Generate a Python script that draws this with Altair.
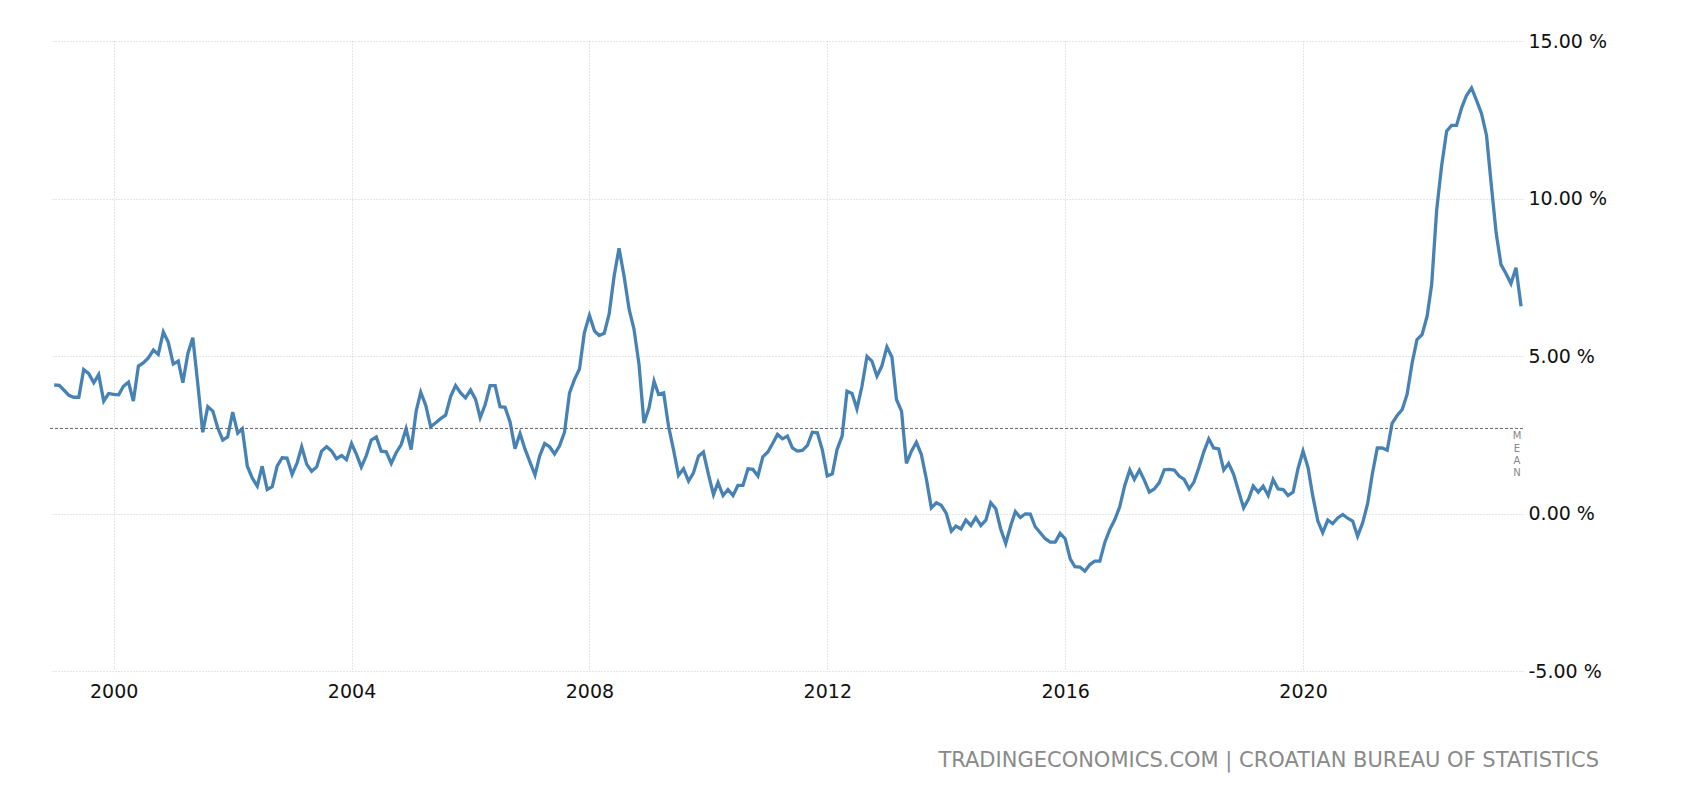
import altair as alt
import pandas as pd

# Monthly inflation rate (%), Jan 1999 .. Sep 2023
v1999_2002 = [
    4.08, 4.07, 3.92, 3.75, 3.69, 3.69, 4.57, 4.44, 4.15, 4.41, 3.57, 3.81,
    3.78, 3.77, 4.04, 4.17, 3.57, 4.68, 4.78, 4.94, 5.19, 5.05, 5.76, 5.44,
    4.75, 4.84, 4.15, 5.08, 5.58, 4.10, 2.58, 3.39, 3.25, 2.72, 2.33, 2.43,
    3.22, 2.55, 2.69, 1.50, 1.13, 0.87, 1.50, 0.76, 0.85, 1.50, 1.77, 1.76,
]
v2003_2006 = [
    1.24, 1.61, 2.12, 1.56, 1.34, 1.48, 1.98, 2.12, 1.98, 1.74, 1.84, 1.71,
    2.22, 1.87, 1.47, 1.84, 2.33, 2.43, 1.98, 1.96, 1.59, 1.93, 2.19, 2.69,
    2.03, 3.25, 3.85, 3.43, 2.75, 2.88, 3.01, 3.12, 3.72, 4.06, 3.83, 3.67,
    3.92, 3.62, 3.04, 3.46, 4.06, 4.06, 3.39, 3.37, 2.90, 2.06, 2.54, 2.05,
]
v2007_2010 = [
    1.63, 1.22, 1.82, 2.22, 2.12, 1.89, 2.14, 2.58, 3.83, 4.25, 4.59, 5.74,
    6.29, 5.80, 5.65, 5.72, 6.33, 7.55, 8.42, 7.53, 6.48, 5.85, 4.72, 2.87,
    3.35, 4.20, 3.78, 3.83, 2.77, 2.01, 1.21, 1.42, 1.03, 1.29, 1.82, 1.95,
    1.24, 0.60, 0.99, 0.57, 0.76, 0.57, 0.89, 0.89, 1.42, 1.40, 1.19, 1.80,
]
v2011_2014 = [
    1.95, 2.24, 2.51, 2.37, 2.46, 2.08, 1.98, 2.00, 2.16, 2.58, 2.56, 2.03,
    1.19, 1.26, 2.03, 2.46, 3.88, 3.81, 3.32, 4.04, 4.99, 4.84, 4.36, 4.68,
    5.29, 4.97, 3.62, 3.25, 1.59, 1.98, 2.26, 1.87, 1.08, 0.18, 0.34, 0.26,
    0.00, -0.56, -0.40, -0.49, -0.21, -0.38, -0.13, -0.38, -0.21, 0.34, 0.15, -0.49,
]
v2015_2018 = [
    -0.95, -0.38, 0.06, -0.13, -0.01, -0.02, -0.42, -0.61, -0.80, -0.91, -0.91, -0.63,
    -0.80, -1.44, -1.69, -1.70, -1.83, -1.62, -1.51, -1.51, -0.91, -0.51, -0.19, 0.21,
    0.89, 1.38, 1.08, 1.38, 1.06, 0.68, 0.78, 0.98, 1.39, 1.40, 1.38, 1.19,
    1.08, 0.78, 0.99, 1.45, 1.95, 2.37, 2.08, 2.05, 1.38, 1.59, 1.24, 0.71,
]
v2019_2023 = [
    0.18, 0.47, 0.87, 0.68, 0.87, 0.57, 1.08, 0.78, 0.76, 0.57, 0.68, 1.42,
    1.98, 1.45, 0.55, -0.24, -0.61, -0.21, -0.32, -0.14, -0.03, -0.15, -0.24, -0.72,
    -0.30, 0.32, 1.24, 2.08, 2.08, 2.01, 2.86, 3.11, 3.30, 3.78, 4.78, 5.52,
    5.68, 6.26, 7.27, 9.65, 11.03, 12.14, 12.32, 12.32, 12.88, 13.27, 13.51, 13.12,
    12.70, 12.00, 10.50, 8.91, 7.90, 7.61, 7.30, 7.80, 6.58,
]

MEAN = 2.70
Y_TICKS = [-5, 0, 5, 10, 15]
X_TICK_YEARS = [2000, 2004, 2008, 2012, 2016, 2020]
SOURCE = "TRADINGECONOMICS.COM | CROATIAN BUREAU OF STATISTICS"

values = v1999_2002 + v2003_2006 + v2007_2010 + v2011_2014 + v2015_2018 + v2019_2023
dates = pd.date_range("1999-01-01", periods=len(values), freq="MS").strftime("%Y-%m-%dT00:00:00")
df = pd.DataFrame({"date": list(dates), "value": values})

W, H = 1473, 630
FONT = "DejaVu Sans"
GRID = "#cccccc"

x_enc = alt.X(
    "date:T",
    scale=alt.Scale(domain=[alt.DateTime(year=1998, month=12, date=6),
                            alt.DateTime(year=2023, month=9, date=13)]),
    axis=alt.Axis(
        values=[alt.DateTime(year=y, month=1, date=1) for y in X_TICK_YEARS],
        format="%Y", grid=True, gridDash=[1, 2], gridColor=GRID, gridWidth=1,
        domain=False, ticks=False, labelFontSize=19, labelColor="#111",
        labelFont=FONT, labelPadding=11, title=None,
    ),
)
y_enc = alt.Y(
    "value:Q",
    scale=alt.Scale(domain=[-5, 15], nice=False),
    axis=alt.Axis(
        orient="right", values=Y_TICKS, grid=True, gridDash=[1, 2], gridColor=GRID,
        gridWidth=1, domain=False, ticks=False, labelFontSize=19, labelColor="#111",
        labelFont=FONT, labelPadding=5, title=None,
        labelExpr="(datum.value < 0 ? '-' + format(abs(datum.value), '.2f') : format(datum.value, '.2f')) + ' %'",
    ),
)

line = alt.Chart(df).mark_line(color="#4682b4", strokeWidth=3.3).encode(x=x_enc, y=y_enc)

mean_df = pd.DataFrame({"mean": [MEAN]})
mean_rule = alt.Chart(mean_df).mark_rule(color="#666666", strokeDash=[3, 2], strokeWidth=1).encode(
    y=alt.Y("mean:Q", scale=alt.Scale(domain=[-5, 15], nice=False))
)
mean_text = alt.Chart(mean_df).mark_text(
    text="M\nE\nA\nN", lineBreak="\n", fontSize=10, color="#888888", align="center",
    baseline="top", lineHeight=12.3, dy=3, font=FONT,
).encode(
    y=alt.Y("mean:Q", scale=alt.Scale(domain=[-5, 15], nice=False)),
    x=alt.value(W - 6),
)

src = alt.Chart(pd.DataFrame({"t": [SOURCE]})).mark_text(
    align="right", baseline="middle", fontSize=21, color="#8a8a8a", font=FONT,
).encode(x=alt.value(1549), y=alt.value(720), text="t:N")

chart = (
    alt.layer(line, mean_rule, mean_text, src)
    .properties(width=W, height=H, autosize="none", background="white",
                padding={"left": 42, "top": 33, "right": 150, "bottom": 115})
    .configure_view(stroke="transparent", strokeWidth=0)
)

chart.save("out.html", embed_options={"renderer": "svg", "actions": False})
